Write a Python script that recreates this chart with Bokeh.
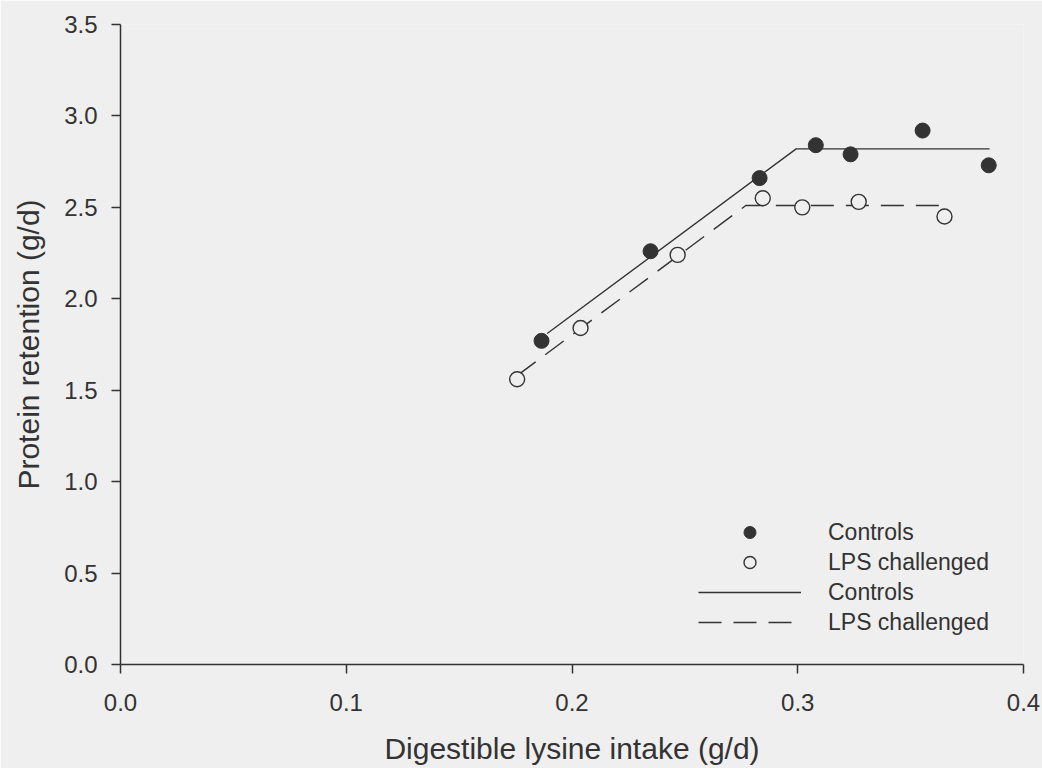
from bokeh.plotting import figure
from bokeh.models import Range1d, FixedTicker, Legend, LegendItem
from bokeh.embed import file_html
from bokeh.resources import INLINE

# ---- data ----
controls_x = [0.1865, 0.2348, 0.2831, 0.3080, 0.3234, 0.3553, 0.3846]
controls_y = [1.77, 2.26, 2.66, 2.84, 2.79, 2.92, 2.73]

lps_x = [0.1757, 0.2038, 0.2468, 0.2845, 0.3020, 0.3270, 0.3650]
lps_y = [1.56, 1.84, 2.24, 2.55, 2.50, 2.53, 2.45]

# broken-line model fits
controls_fit_x = [0.189, 0.2993, 0.385]
controls_fit_y = [1.81, 2.82, 2.82]
lps_fit_x = [0.1757, 0.277, 0.365]
lps_fit_y = [1.58, 2.51, 2.51]

x_ticks = [0.0, 0.1, 0.2, 0.3, 0.4]
x_tick_labels = ["0.0", "0.1", "0.2", "0.3", "0.4"]
y_ticks = [0.0, 0.5, 1.0, 1.5, 2.0, 2.5, 3.0, 3.5]
y_tick_labels = ["0.0", "0.5", "1.0", "1.5", "2.0", "2.5", "3.0", "3.5"]

x_title = "Digestible lysine intake (g/d)"
y_title = "Protein retention (g/d)"
series_names = ["Controls", "LPS challenged"]

BG = "#efefef"
INK = "#333333"
FONT = "Liberation Sans"

p = figure(width=1042, height=768, output_backend="svg", toolbar_location=None,
           x_range=Range1d(0, 0.4), y_range=Range1d(0, 3.5),
           min_border_left=120, min_border_right=19, min_border_top=24,
           min_border_bottom=104)
p.background_fill_color = BG
p.border_fill_color = BG
p.outline_line_color = None
p.grid.visible = False

for ax in (p.xaxis[0], p.yaxis[0]):
    ax.axis_line_color = INK
    ax.axis_line_width = 1.5
    ax.major_tick_line_color = INK
    ax.major_tick_line_width = 1.5
    ax.major_tick_out = 9
    ax.major_tick_in = 0
    ax.minor_tick_line_color = None
    ax.major_label_text_font = FONT
    ax.major_label_text_font_size = "24px"
    ax.major_label_text_color = INK
    ax.axis_label_text_font = FONT
    ax.axis_label_text_font_size = "30px"
    ax.axis_label_text_font_style = "normal"
    ax.axis_label_text_color = INK

p.xaxis.ticker = FixedTicker(ticks=x_ticks)
p.xaxis.major_label_overrides = dict(zip(x_ticks, x_tick_labels))
p.yaxis.ticker = FixedTicker(ticks=y_ticks)
p.yaxis.major_label_overrides = dict(zip(y_ticks, y_tick_labels))
p.xaxis.axis_label = x_title
p.yaxis.axis_label = y_title
p.xaxis.major_label_standoff = 20
p.yaxis.major_label_standoff = 14
p.xaxis.axis_label_standoff = 18
p.yaxis.axis_label_standoff = 16

r_cl = p.line(controls_fit_x, controls_fit_y, line_color=INK, line_width=1.4)
r_ll = p.line(lps_fit_x, lps_fit_y, line_color=INK, line_width=1.4, line_dash="23 12")
r_cp = p.scatter(controls_x, controls_y, marker="circle", size=15,
                 fill_color=INK, line_color=INK, line_width=1)
r_lp = p.scatter(lps_x, lps_y, marker="circle", size=15,
                 fill_color=BG, line_color=INK, line_width=1.4)

legend = Legend(items=[
    LegendItem(label=series_names[0], renderers=[r_cp]),
    LegendItem(label=series_names[1], renderers=[r_lp]),
    LegendItem(label=series_names[0], renderers=[r_cl]),
    LegendItem(label=series_names[1], renderers=[r_ll]),
], location=(578, 27), glyph_width=103, glyph_height=30, label_height=30,
    spacing=0, label_standoff=27, padding=0, margin=0,
    border_line_alpha=0, background_fill_alpha=0,
    label_text_font=FONT, label_text_font_size="23px", label_text_color=INK)
p.add_layout(legend, "center")

open("out.html", "w").write(file_html(p, INLINE))
